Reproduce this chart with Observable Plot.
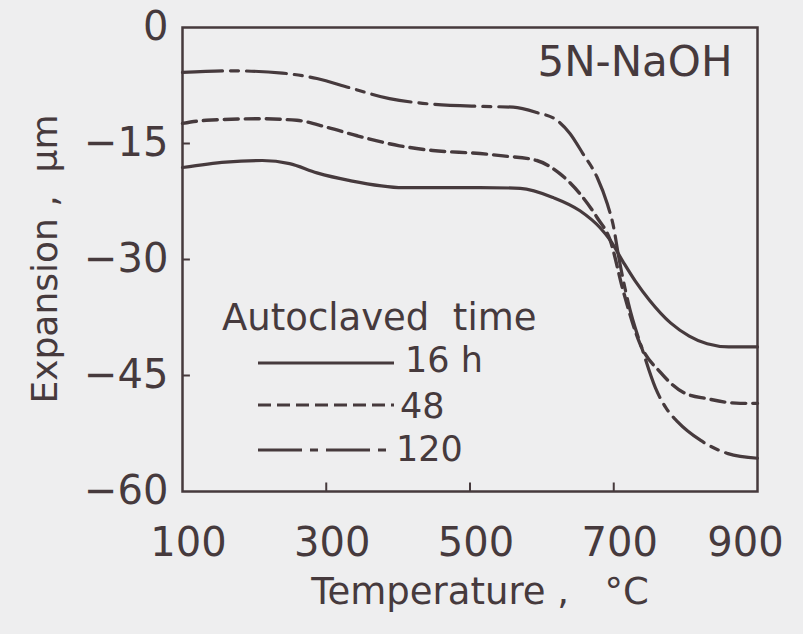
<!DOCTYPE html>
<html>
<head>
<meta charset="utf-8">
<script src="https://cdn.jsdelivr.net/npm/d3@7"></script>
<script src="https://cdn.jsdelivr.net/npm/@observablehq/plot@0.6"></script>
<style>
  html, body { margin: 0; padding: 0; background: #eeeeef; }
  #chart svg { display: block; }
</style>
</head>
<body>
<div id="chart"></div>
<script>
// ---- data ----
const temp16 = [100, 160, 211, 249, 287, 333, 407, 514, 570, 616, 653, 681, 695, 713, 730, 750, 779, 805, 830, 860, 900];
const exp16  = [-18.1, -17.4, -17.2, -17.6, -18.8, -19.8, -20.7, -20.7, -20.8, -22.0, -23.7, -25.9, -27.5, -30.3, -32.8, -35.3, -38.2, -39.9, -40.9, -41.3, -41.3];

const temp48 = [100, 133, 207, 259, 301, 343, 402, 448, 514, 546, 593, 625, 653, 677, 695, 713, 737, 765, 797, 830, 876, 900];
const exp48  = [-12.4, -12.0, -11.8, -12.0, -12.9, -14.0, -15.3, -15.9, -16.3, -16.6, -17.2, -18.9, -21.5, -24.6, -27.5, -34.0, -41.0, -44.6, -47.2, -48.0, -48.6, -48.6];

const temp120 = [100, 170, 239, 287, 333, 388, 434, 514, 560, 593, 621, 639, 657, 677, 691, 700, 706, 720, 741, 758, 772, 789, 821, 859, 900];
const exp120  = [-5.8, -5.6, -5.9, -6.6, -7.8, -9.2, -9.8, -10.2, -10.3, -11.0, -12.0, -13.7, -16.3, -19.4, -22.8, -25.9, -29.2, -35.5, -42.0, -46.6, -49.1, -51.0, -53.4, -55.1, -55.7];

const seriesNames = ["16 h", "48", "120"];
const seriesDash  = ["none", "14 7", "40 8 8 8"];
const legendDash  = ["none", "13 6", "44 8 8 8"];

const xTicks = [100, 300, 500, 700, 900];
const yTicks = [0, -15, -30, -45, -60];
const innerXTicks = [300, 500, 700];
const innerYTicks = [-15, -30, -45];

const title = "5N-NaOH";
const legendTitle = "Autoclaved\u00a0\u00a0time";
const xLabel = "Temperature ,\u00a0\u00a0\u00a0°C";
const yLabel = "Expansion ,\u00a0\u00a0μm";

// ---- build tables ----
const s16  = temp16.map((t, i) => ({t, v: exp16[i]}));
const s48  = temp48.map((t, i) => ({t, v: exp48[i]}));
const s120 = temp120.map((t, i) => ({t, v: exp120[i]}));

const ink = "#463a3d";
const font = "DejaVu Sans, sans-serif";
const fmt = d => d === 0 ? "0" : "\u2212" + Math.abs(d);

const chart = Plot.plot({
  width: 803,
  height: 634,
  marginLeft: 182,
  marginRight: 46,
  marginTop: 27,
  marginBottom: 143,
  style: {background: "#eeeeef", color: ink, fontFamily: font},
  x: {domain: [100, 900]},
  y: {domain: [-60, 0]},
  marks: [
    Plot.frame({stroke: ink, strokeWidth: 2.5}),
    // inner ticks
    Plot.ruleY(innerYTicks, {y: d => d, x1: 100, x2: 111, stroke: ink, strokeWidth: 2}),
    Plot.ruleX(innerXTicks, {x: d => d, y1: -60, y2: -58.9, stroke: ink, strokeWidth: 2}),
    // axes labels
    Plot.axisY({ticks: yTicks, tickSize: 0, tickPadding: 14, fontSize: 40, tickFormat: fmt, label: null}),
    Plot.axisX({ticks: xTicks.slice(0, 4), tickSize: 0, tickPadding: 36, dx: 6, fontSize: 40, label: null}),
    Plot.axisX({ticks: xTicks.slice(4), tickSize: 0, tickPadding: 36, dx: -12, fontSize: 40, label: null}),
    // curves
    Plot.line(s16,  {x: "t", y: "v", stroke: ink, strokeWidth: 3.2, curve: "monotone-x"}),
    Plot.line(s48,  {x: "t", y: "v", stroke: ink, strokeWidth: 3.4, curve: "monotone-x", strokeDasharray: seriesDash[1]}),
    Plot.line(s120, {x: "t", y: "v", stroke: ink, strokeWidth: 3.2, curve: "monotone-x", strokeDasharray: seriesDash[2]}),
    // texts
    Plot.text([title], {text: d => d, frameAnchor: "top-right", dx: -25, dy: 35, fontSize: 42, textAnchor: "end", lineAnchor: "middle", fill: ink}),
    Plot.text([xLabel], {text: d => d, frameAnchor: "bottom", dx: 10, dy: 101, fontSize: 37, lineAnchor: "middle", fill: ink})
  ]
});

document.getElementById("chart").appendChild(chart);

const svg = d3.select(chart);

// ---- y axis title ----
svg.append("text")
  .attr("transform", "translate(44,259) rotate(-90)")
  .attr("text-anchor", "middle").attr("dy", "0.35em")
  .attr("font-family", font).attr("font-size", 36).attr("fill", ink)
  .text(yLabel);

// ---- legend (inside the plot area) ----
const lg = svg.append("g").attr("font-family", font).attr("fill", ink).attr("text-anchor", "start");
lg.append("text").attr("x", 222).attr("y", 317).attr("dy", "0.35em")
  .attr("text-anchor", "start").attr("font-size", 37).text(legendTitle);
const rowY = [363, 405, 450];
const textX = [405, 400, 396];
const textY = [360, 406, 449];
seriesNames.forEach((name, i) => {
  lg.append("line").attr("x1", 258).attr("x2", 394).attr("y1", rowY[i]).attr("y2", rowY[i])
    .attr("stroke", ink).attr("stroke-width", 3)
    .attr("stroke-dasharray", legendDash[i] === "none" ? null : legendDash[i]);
  lg.append("text").attr("x", textX[i]).attr("y", textY[i]).attr("dy", "0.35em")
    .attr("text-anchor", "start").attr("font-size", 35).text(name);
});
</script>
</body>
</html>
